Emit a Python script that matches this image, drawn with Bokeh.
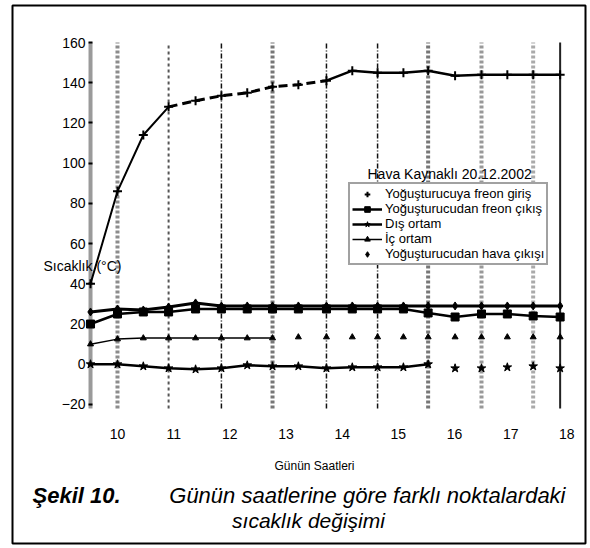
from bokeh.plotting import figure
from bokeh.models import Label, FixedTicker, Range1d, LinearAxis
from bokeh.embed import file_html
from bokeh.resources import INLINE

FONT = "Liberation Sans"

# ---- data ----
saat = [9.52, 10.00, 10.46, 10.91, 11.39, 11.85, 12.31, 12.76, 13.22, 13.72,
        14.18, 14.63, 15.09, 15.53, 16.01, 16.48, 16.94, 17.40, 17.88]
freon_giris = [40, 86, 114, 128, 131, 133.5, 135, 138, 139, 141,
               146, 145, 145, 146, 143.5, 144, 144, 144, 144]
freon_cikis = [20, 25, 26, 26, 27.5, 27.5, 27.5, 27.5, 27.5, 27.5,
               27.5, 27.5, 27.5, 25.5, 23.5, 25, 25, 24, 23.5]
dis_ortam = [0, 0, -1, -2, -2.5, -2, -0.5, -1, -1, -2,
             -1.5, -1.5, -1.5, 0, -2, -2, -1.5, -1, -2]
ic_ortam = [10, 12.5, 13, 13, 13, 13, 13, 13, 13.5, 13.5,
            13.5, 13.5, 13.5, 13.5, 13.5, 13.5, 13.5, 13.5, 13.5]
hava_cikis = [26, 27.5, 27, 28.5, 30.5, 29, 29, 29, 29, 29,
              29, 29, 29, 29, 29, 29, 29, 29, 29]

series_names = ["Yoğuşturucuya freon giriş", "Yoğuşturucudan freon çıkış",
                "Dış ortam", "İç ortam", "Yoğuşturucudan hava çıkışı"]
x_ticks = [10, 11, 12, 13, 14, 15, 16, 17, 18]
y_ticks = [-20, 0, 20, 40, 60, 80, 100, 120, 140, 160]
y_min, y_max = -22, 160          # extent of the value axis
x_min, x_max = 9.484, 18.1       # extent of the time axis
legend_title = "Hava Kaynaklı 20.12.2002"
x_title = "Günün Saatleri"
y_title = "Sıcaklık (°C)"
cap_bold = "Şekil 10."
cap_line1 = "Günün saatlerine göre farklı noktalardaki"
cap_line2 = "sıcaklık değişimi"

# grid line styles (one per measurement line at saat[1::2])
grid_styles = [
    ("#8c8c8c", 4, "3 2"),
    ("#555555", 2, "3 3"),
    ("#111111", 1.5, "5 2 1 2"),
    ("#777777", 4, "3 2"),
    ("#111111", 1.5, "5 2 1 2"),
    ("#111111", 1.5, "5 2 1 2"),
    ("#777777", 4, "3 2"),
    ("#999999", 4, "3 2"),
    ("#aaaaaa", 4, "3 2"),
]

# the frame is the outer bordered box; axes sit inside it at fixed locations
p = figure(width=590, height=548, output_backend="svg", toolbar_location=None,
           x_range=Range1d(8.13106, 18.3315), y_range=Range1d(-89.131, 178.399),
           x_axis_location=None, y_axis_location=None,
           min_border_left=12, min_border_right=5, min_border_top=5,
           min_border_bottom=5)
p.outline_line_color = "black"
p.outline_line_width = 2
p.xgrid.visible = False
p.ygrid.visible = False
p.background_fill_color = "white"
p.border_fill_color = "white"

xaxis = LinearAxis(fixed_location=y_min, bounds=(x_min, x_max),
                   ticker=FixedTicker(ticks=x_ticks))
xaxis.axis_line_color = None
xaxis.major_tick_line_color = None
xaxis.minor_tick_line_color = None
xaxis.major_label_standoff = 14
xaxis.major_label_text_font = FONT
xaxis.major_label_text_font_size = "14px"
xaxis.major_label_text_color = "black"
p.add_layout(xaxis, "below")

yaxis = LinearAxis(fixed_location=x_min, bounds=(y_min, y_max),
                   ticker=FixedTicker(ticks=y_ticks))
yaxis.axis_line_color = None
yaxis.minor_tick_line_color = None
yaxis.major_tick_in = 4
yaxis.major_tick_out = 0
yaxis.major_tick_line_color = "black"
yaxis.major_tick_line_width = 2
yaxis.major_label_standoff = 3
yaxis.major_label_text_font = FONT
yaxis.major_label_text_font_size = "14px"
yaxis.major_label_text_color = "black"
p.add_layout(yaxis, "left")

# vertical measurement lines
p.segment(x0=saat[0], x1=saat[0], y0=y_min, y1=y_max, line_color="#9a9a9a",
          line_width=4)
for t, (c, w, d) in zip(saat[1::2], grid_styles):
    p.segment(x0=t, x1=t, y0=y_min, y1=y_max, line_color=c, line_width=w,
              line_dash=d)
p.segment(x0=saat[-1], x1=saat[-1], y0=y_min, y1=y_max, line_color="#222222",
          line_width=2)

# series 1: freon giriş
p.line(saat[:4], freon_giris[:4], line_color="black", line_width=2)
p.line(saat[3:10], freon_giris[3:10], line_color="black", line_width=3,
       line_dash="9 5")
p.line(saat[9:], freon_giris[9:], line_color="black", line_width=2.5)
p.scatter(saat, freon_giris, marker="cross", size=9, line_color="black",
          line_width=2, legend_label=series_names[0])

# series 2: freon çıkış
p.line(saat, freon_cikis, line_color="black", line_width=2.5,
       legend_label=series_names[1])
p.scatter(saat, freon_cikis, marker="square", size=8, color="black",
          legend_label=series_names[1])

# series 3: dış ortam
p.line(saat[:14], dis_ortam[:14], line_color="black", line_width=2.5,
       legend_label=series_names[2])
p.scatter(saat, dis_ortam, marker="star", size=9, color="black",
          legend_label=series_names[2])

# series 4: iç ortam
p.line(saat[:8], ic_ortam[:8], line_color="black", line_width=1.5,
       legend_label=series_names[3])
p.scatter(saat, ic_ortam, marker="triangle", size=6, color="black",
          legend_label=series_names[3])

# series 5: hava çıkışı
p.line(saat, hava_cikis, line_color="black", line_width=3)
p.scatter(saat, hava_cikis, marker="diamond", size=8, color="black",
          legend_label=series_names[4])

# legend
lg = p.legend[0]
lg.location = (336, 278)
lg.label_text_font = FONT
lg.label_text_font_size = "13px"
lg.label_text_color = "black"
lg.label_height = 14
lg.glyph_height = 14
lg.glyph_width = 30
lg.label_standoff = 3
lg.spacing = 0
lg.padding = 2
lg.margin = 0
lg.border_line_color = "#444444"
lg.border_line_width = 2
lg.background_fill_color = "white"
lg.background_fill_alpha = 1.0

# texts (screen offsets from the box's bottom-left corner)
def lab(text, x, y, size, align="left", style="normal"):
    p.add_layout(Label(x=x, y=y, x_units="screen", y_units="screen", text=text,
                       text_font=FONT, text_font_size=size, text_align=align,
                       text_baseline="middle", text_font_style=style,
                       text_color="black"))

lab(legend_title, 355, 370, "14px")
lab(y_title, 31, 278, "14px")
lab(x_title, 302, 78, "12px", align="center")
lab(cap_bold, 20, 48, "22px", style="bold italic")
lab(cap_line1, 553, 48, "22px", align="right", style="italic")
lab(cap_line2, 296, 23, "21px", align="center", style="italic")

open("out.html", "w").write(file_html(p, INLINE))
